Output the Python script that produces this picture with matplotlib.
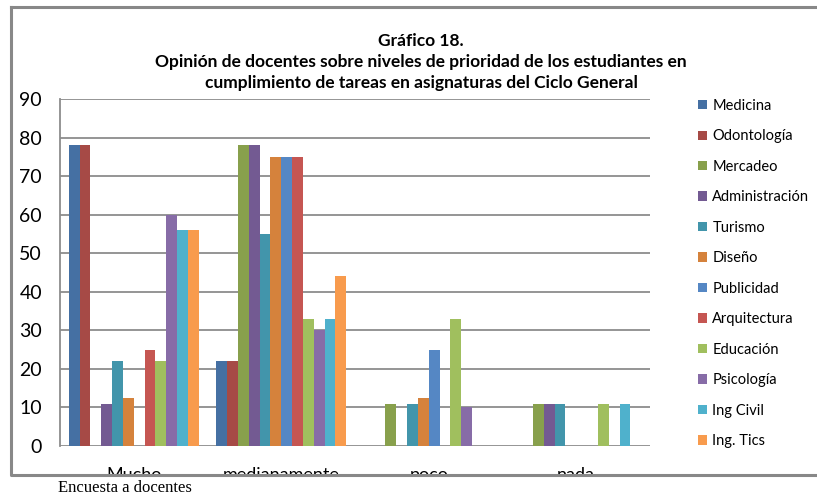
import numpy as np
import matplotlib.pyplot as plt
from matplotlib.patches import Rectangle, Patch
from matplotlib.lines import Line2D

categories = ['Mucho', 'medianamente', 'poco', 'nada']
programs = ['Medicina', 'Odontología', 'Mercadeo', 'Administración', 'Turismo',
            'Diseño', 'Publicidad', 'Arquitectura', 'Educación', 'Psicología',
            'Ing Civil', 'Ing. Tics']
# values per program, in order Mucho, medianamente, poco, nada
medicina = [78, 22, 0, 0]
odontologia = [78, 22, 0, 0]
mercadeo = [0, 78, 11, 11]
administracion = [11, 78, 0, 11]
turismo = [22, 55, 11, 11]
diseno = [12.5, 75, 12.5, 0]
publicidad = [0, 75, 25, 0]
arquitectura = [25, 75, 0, 0]
educacion = [22, 33, 33, 11]
psicologia = [60, 30, 10, 0]
ing_civil = [56, 33, 0, 11]
ing_tics = [56, 44, 0, 0]

colors = ['#4570A3', '#A64A46', '#88A04C', '#735A92', '#4295AB', '#D5823C',
          '#5587C4', '#C55652', '#A0BF5E', '#876CA7', '#4FB1CC', '#F89B4D']

series = [medicina, odontologia, mercadeo, administracion, turismo, diseno,
          publicidad, arquitectura, educacion, psicologia, ing_civil, ing_tics]

plt.rcParams['font.family'] = ['Lato', 'DejaVu Sans']

fig = plt.figure(figsize=(8.17, 4.97), dpi=100)
ax = fig.add_axes([60 / 817, 1 - 446 / 497, 590 / 817, 347 / 497])

n = len(series)
group = 0.88
w = group / n
x = np.arange(len(categories))
for i, vals in enumerate(series):
    ax.bar(x - group / 2 + (i + 0.5) * w, vals, width=w, color=colors[i],
           label=programs[i], zorder=3)

ax.set_xlim(-0.5, len(categories) - 0.5)
ax.set_ylim(0, 90)
ax.set_yticks(range(0, 91, 10))
ax.yaxis.grid(True, color='#8c8c8c', linewidth=1.3, zorder=0)
ax.set_axisbelow(True)
for s in ['top', 'right', 'bottom']:
    ax.spines[s].set_visible(False)
ax.spines['left'].set_color('#8c8c8c')
ax.spines['left'].set_linewidth(1.3)
ax.tick_params(axis='y', length=0, pad=13, labelsize=14)
ax.tick_params(axis='x', length=0, pad=15, labelsize=13)
ax.set_xticks(x)
ax.set_xticklabels(categories)

title_lines = ['Gráfico 18.',
               'Opinión de docentes sobre niveles de prioridad de los estudiantes en',
               'cumplimiento de tareas en asignaturas del Ciclo General']
for ty, line in zip([41, 62, 83], title_lines):
    fig.text(421 / 817, 1 - ty / 497, line, ha='center', va='center',
             fontsize=12.5, fontweight='bold')

handles = [Patch(facecolor=c, edgecolor='none') for c in colors]
fig.legend(handles, programs, loc='upper left',
           bbox_to_anchor=(692 / 817, 1 - 93 / 497), frameon=False,
           fontsize=10.5, handlelength=0.6, handleheight=0.6, handletextpad=0.4,
           labelspacing=1.13, borderaxespad=0)

# chart frame, labels are clipped by the bottom border as in the original
fig.patches.append(Rectangle((0, 0), 1, 1 - 475 / 497, transform=fig.transFigure,
                             facecolor='white', edgecolor='none', zorder=5))
fig.lines.append(Line2D([11 / 817, 11 / 817, 1], [1 - 7 / 497, 1 - 475 / 497, 1 - 475 / 497],
                        transform=fig.transFigure, color='#888888', linewidth=2.2, zorder=6))
fig.lines.append(Line2D([11 / 817, 1], [1 - 7 / 497, 1 - 7 / 497],
                        transform=fig.transFigure, color='#888888', linewidth=2.2, zorder=6))

fig.text(58 / 817, 1 - 488 / 497, 'Encuesta a docentes', ha='left', va='center',
         fontsize=12, family='Liberation Serif', zorder=7)

fig.savefig('out.png', dpi=100, facecolor='white')
